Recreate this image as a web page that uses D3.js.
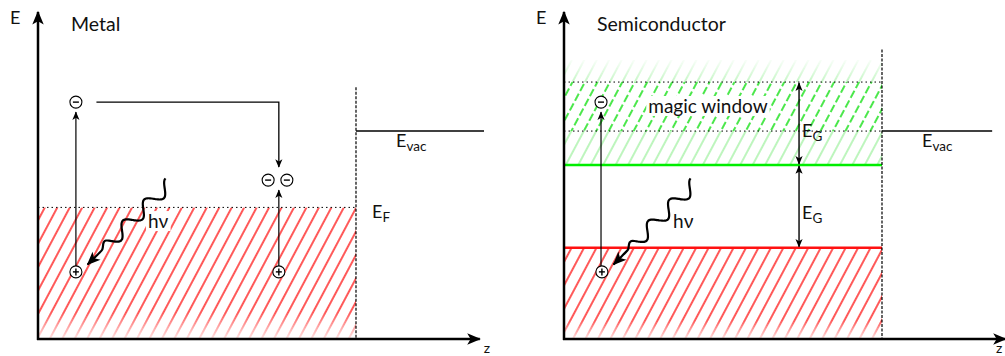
<!DOCTYPE html>
<html>
<head>
<meta charset="utf-8">
<script src="https://cdn.jsdelivr.net/npm/d3@7"></script>
<style>
  body { margin: 0; background: #fff; }
  text { font-family: Lato, "Open Sans", sans-serif; fill: #111; }
</style>
</head>
<body>
<div id="chart"></div>
<script>
// Panel setup (energy E and position z in arbitrary units)
const panelTitles = ['Metal', 'Semiconductor'];
const panelLeft = [38, 564];          // pixel x of each E axis
const axisEndZ = [9.95, 9.95];
const surfaceZ = [7.13, 7.13];
const surfaceTopE = [7.65, 8.8];
const vacuumE = [6.32, 6.32];
const vacuumEndZ = [10, 9.6];

// Metal levels
const fermiE = 4.0;

// Semiconductor levels
const valenceTopE = 2.77;
const conductionE = 5.29;
const windowE = [6.32, 7.81];
const conductionTopE = 8.48;
const gapArrowZ = 5.27;

// Carriers: [panel, z, E]
const electrons = [[0, 0.85, 7.2], [0, 5.16, 4.83], [0, 5.58, 4.83], [1, 0.83, 7.2]];
const holes = [[0, 0.85, 2.04], [0, 5.4, 2.04], [1, 0.85, 2.04]];
// Photons: [panel, zStart, EStart, zEnd, EEnd]
const photons = [[0, 2.96, 4.74, 1.08, 2.22], [1, 2.94, 4.74, 1.08, 2.22]];

let w = 1005, h = 356;

const svg = d3.select('#chart').append('svg')
  .attr('width', w).attr('height', h);

const yScale = d3.scaleLinear().domain([0, 10]).range([339, 10]);
const zScales = panelLeft.map(x0 => d3.scaleLinear().domain([0, 10]).range([x0, x0 + 446]));

const defs = svg.append('defs');

// arrow markers
function addMarker(id, size) {
  defs.append('marker').attr('id', id)
    .attr('viewBox', '-12 -6 14 12')
    .attr('refX', 0).attr('refY', 0)
    .attr('markerWidth', size).attr('markerHeight', size)
    .attr('markerUnits', 'userSpaceOnUse')
    .attr('orient', 'auto-start-reverse')
    .append('path').attr('d', 'M1,0 L-11,-5 L-8,0 L-11,5 Z').attr('fill', '#000');
}
addMarker('arr', 10);
addMarker('arrBig', 16);

// hatch patterns
function hatch(id, color, op, sw, dash) {
  const p = defs.append('pattern').attr('id', id)
    .attr('patternUnits', 'userSpaceOnUse')
    .attr('width', 11).attr('height', 11)
    .attr('patternTransform', 'rotate(28)');
  p.append('line').attr('x1', 5).attr('x2', 5).attr('y1', -1).attr('y2', 12)
    .attr('stroke', color).attr('stroke-width', sw).attr('stroke-opacity', op)
    .attr('stroke-dasharray', dash || null);
}
hatch('hRed', '#ff0000', 1, 1.3);
hatch('hGreenLight', '#22dd22', 0.5, 1.2);
hatch('hGreen', '#00dd00', 1, 1.4, '7,3');

// fading masks
function fadeMask(id, dir) {
  const g = defs.append('linearGradient').attr('id', id + 'G')
    .attr('x1', 0).attr('x2', 0).attr('y1', 0).attr('y2', 1);
  if (dir === 'bottom') {
    g.append('stop').attr('offset', '0').attr('stop-color', '#fff');
    g.append('stop').attr('offset', '0.8').attr('stop-color', '#fff');
    g.append('stop').attr('offset', '1').attr('stop-color', '#fff').attr('stop-opacity', 0.15);
  } else {
    g.append('stop').attr('offset', '0').attr('stop-color', '#fff').attr('stop-opacity', 0.1);
    g.append('stop').attr('offset', '0.25').attr('stop-color', '#fff');
    g.append('stop').attr('offset', '1').attr('stop-color', '#fff');
  }
  defs.append('mask').attr('id', id).attr('maskContentUnits', 'objectBoundingBox')
    .append('rect').attr('width', 1).attr('height', 1).attr('fill', 'url(#' + id + 'G)');
}
fadeMask('fadeBottom', 'bottom');
fadeMask('fadeTop', 'top');

function band(x, E1, E2, fill, mask) {
  svg.append('rect')
    .attr('x', x.range()[0]).attr('y', yScale(E2))
    .attr('width', x(surfaceZ[0]) - x.range()[0])
    .attr('height', yScale(E1) - yScale(E2))
    .attr('fill', fill)
    .attr('mask', mask ? 'url(#' + mask + ')' : null);
}

function hline(x, z1, z2, E, attrs) {
  const l = svg.append('line')
    .attr('x1', x(z1)).attr('x2', x(z2))
    .attr('y1', yScale(E)).attr('y2', yScale(E));
  Object.entries(attrs).forEach(([k, v]) => l.attr(k, v));
  return l;
}

// text with a white box behind it (so the hatching stops around it)
function boxedText(x, y, size, str) {
  const g = svg.append('g');
  const r = g.append('rect').attr('fill', '#fff');
  const t = g.append('text').attr('x', x).attr('y', y).attr('font-size', size).text(str);
  const b = t.node().getBBox();
  r.attr('x', b.x - 2).attr('y', b.y + 2).attr('width', b.width + 4).attr('height', b.height - 3);
}

// --- Metal panel bands
const zM = zScales[0];
band(zM, 0, fermiE, 'url(#hRed)', 'fadeBottom');
hline(zM, 0, surfaceZ[0], fermiE, {stroke: '#000', 'stroke-width': 1, 'stroke-dasharray': '1.5,3'});

// --- Semiconductor panel bands
const zS = zScales[1];
band(zS, 0, valenceTopE, 'url(#hRed)', 'fadeBottom');
band(zS, conductionE, conductionTopE, 'url(#hGreenLight)', 'fadeTop');
band(zS, windowE[0], windowE[1], '#fff');
band(zS, windowE[0], windowE[1], 'url(#hGreen)');
windowE.forEach(E => hline(zS, 0, surfaceZ[1], E,
  {stroke: '#000', 'stroke-width': 1, 'stroke-dasharray': '1.5,3'}));
hline(zS, 0, surfaceZ[1], conductionE, {stroke: '#00ee00', 'stroke-width': 2.5});
hline(zS, 0, surfaceZ[1], valenceTopE, {stroke: '#ff1111', 'stroke-width': 2.5});

// surfaces, vacuum levels, axes
zScales.forEach((x, i) => {
  svg.append('line')
    .attr('x1', x(surfaceZ[i])).attr('x2', x(surfaceZ[i]))
    .attr('y1', yScale(surfaceTopE[i])).attr('y2', yScale(0))
    .attr('stroke', '#000').attr('stroke-width', 1.2).attr('stroke-dasharray', '3,1.5');

  hline(x, surfaceZ[i], vacuumEndZ[i], vacuumE[i], {stroke: '#000', 'stroke-width': 1.6});

  // E axis
  svg.append('line')
    .attr('x1', x(0)).attr('x2', x(0))
    .attr('y1', yScale(0) + 1).attr('y2', yScale(10) + 2)
    .attr('stroke', '#000').attr('stroke-width', 2.5)
    .attr('marker-end', 'url(#arrBig)');
  // z axis
  svg.append('line')
    .attr('x1', x(0) - 1).attr('x2', x(axisEndZ[i]) - 2)
    .attr('y1', yScale(0)).attr('y2', yScale(0))
    .attr('stroke', '#000').attr('stroke-width', 2.5)
    .attr('marker-end', 'url(#arrBig)');

  svg.append('text').attr('x', x(0) - 28).attr('y', 24)
    .attr('font-size', 18).text('E');
  svg.append('text').attr('x', Math.min(x(axisEndZ[i]) + 2, 996)).attr('y', 353)
    .attr('font-size', 14).text('z');
  svg.append('text').attr('x', x(0) + 33).attr('y', 31)
    .attr('font-size', 19.5).text(panelTitles[i]);

  const ev = svg.append('text').attr('x', x(surfaceZ[i]) + 40).attr('y', yScale(vacuumE[i]) + 16)
    .attr('font-size', 18);
  ev.append('tspan').text('E');
  ev.append('tspan').attr('dy', 4).attr('font-size', 13.5).text('vac');
});

// Fermi label
const ef = svg.append('text').attr('x', zM(surfaceZ[0]) + 16).attr('y', yScale(fermiE) + 11)
  .attr('font-size', 18);
ef.append('tspan').text('E');
ef.append('tspan').attr('dy', 4).attr('font-size', 13.5).text('F');

// gap arrows
[[valenceTopE, conductionE], [conductionE, windowE[1]]].forEach(([a, b]) => {
  svg.append('line')
    .attr('x1', zS(gapArrowZ)).attr('x2', zS(gapArrowZ))
    .attr('y1', yScale(a) - 1).attr('y2', yScale(b) + 1)
    .attr('stroke', '#000').attr('stroke-width', 1.4)
    .attr('marker-start', 'url(#arr)').attr('marker-end', 'url(#arr)');
  const t = svg.append('text').attr('x', zS(gapArrowZ) + 3)
    .attr('y', yScale((a + b) / 2) + 13).attr('font-size', 18);
  t.append('tspan').text('E');
  t.append('tspan').attr('dy', 4).attr('font-size', 13.5).text('G');
});

boxedText(zS(1.89), yScale(6.87), 19, 'magic window');

// excitation arrows (hole -> electron)
[[0, 0.85, 2.04, 7.2], [0, 5.4, 2.04, 4.83], [1, 0.83, 2.04, 7.2]].forEach(([p, z, E1, E2]) => {
  const x = zScales[p];
  svg.append('line')
    .attr('x1', x(z)).attr('x2', x(z))
    .attr('y1', yScale(E1) - 6).attr('y2', yScale(E2) + 10)
    .attr('stroke', '#000').attr('stroke-width', 1.2)
    .attr('marker-end', 'url(#arr)');
});

// emission path in metal: electron moves over to the surface region
svg.append('path')
  .attr('d', 'M' + zM(1.31) + ',' + yScale(7.2) +
    'H' + zM(5.4) + 'V' + (yScale(4.83) - 13))
  .attr('fill', 'none').attr('stroke', '#000').attr('stroke-width', 1.3)
  .attr('marker-end', 'url(#arr)');

// carriers
function carrier(p, z, E, sign) {
  const cx = zScales[p](z), cy = yScale(E);
  svg.append('circle').attr('cx', cx).attr('cy', cy).attr('r', 6)
    .attr('fill', '#fff').attr('stroke', '#000').attr('stroke-width', 1.1);
  svg.append('line').attr('x1', cx - 3).attr('x2', cx + 3).attr('y1', cy).attr('y2', cy)
    .attr('stroke', '#000').attr('stroke-width', 1.4);
  if (sign > 0) {
    svg.append('line').attr('x1', cx).attr('x2', cx).attr('y1', cy - 3.5).attr('y2', cy + 3.5)
      .attr('stroke', '#000').attr('stroke-width', 1.4);
  }
}
electrons.forEach(d => carrier(d[0], d[1], d[2], -1));
holes.forEach(d => carrier(d[0], d[1], d[2], 1));

// photons: wavy line with arrow
photons.forEach(([p, z1, E1, z2, E2]) => {
  const x = zScales[p];
  const sx = x(z1), sy = yScale(E1), ex = x(z2), ey = yScale(E2);
  const L = Math.hypot(ex - sx, ey - sy);
  const ux = (ex - sx) / L, uy = (ey - sy) / L;
  const nx = -uy, ny = ux;
  const waveLen = L - 22, lambda = 30, amp = 6.5;
  const pts = d3.range(0, waveLen + 0.5, 1).map(t => {
    const o = amp * Math.sin(2 * Math.PI * t / lambda + Math.PI / 2) *
      Math.min(1, (waveLen - t) / 10);
    return [sx + ux * t + nx * o, sy + uy * t + ny * o];
  });
  pts.push([ex - ux * 2, ey - uy * 2]);
  svg.append('path').attr('d', d3.line().curve(d3.curveBasis)(pts))
    .attr('fill', 'none').attr('stroke', '#000').attr('stroke-width', 2.2)
    .attr('marker-end', 'url(#arrBig)');
  boxedText(x(z1) - 22, yScale(E1) + 45, 19, 'hν');
});
</script>
</body>
</html>
